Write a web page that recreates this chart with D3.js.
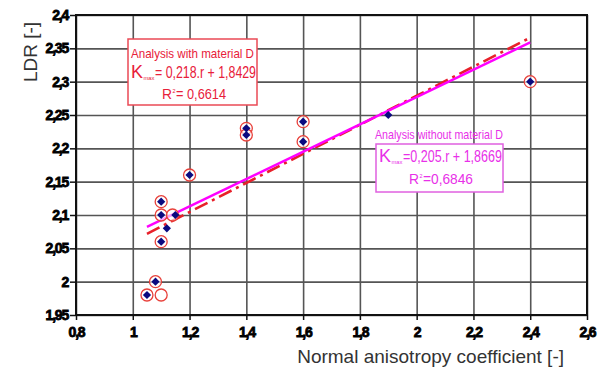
<!DOCTYPE html>
<html>
<head>
<meta charset="utf-8">
<script src="https://cdn.jsdelivr.net/npm/d3@7"></script>
<style>
  body { margin: 0; background: #fff; }
  svg { display: block; }
  .narrow text { font-family: "Liberation Sans Narrow", "Arial Narrow", "Liberation Sans", sans-serif; }
</style>
</head>
<body>
<div id="chart"></div>
<script>
// LDR vs normal anisotropy coefficient

const xTicks = [0.8, 1, 1.2, 1.4, 1.6, 1.8, 2, 2.2, 2.4, 2.6];
const yTicks = [1.95, 2, 2.05, 2.1, 2.15, 2.2, 2.25, 2.3, 2.35, 2.4];

// analysis without material D (blue diamonds)
const withoutX = [1.05, 1.08, 1.1, 1.1, 1.1, 1.12, 1.15, 1.2, 1.4, 1.4, 1.6, 1.6, 1.9, 2.4];
const withoutY = [1.98, 2.0, 2.06, 2.10, 2.12, 2.08, 2.10, 2.16, 2.23, 2.22, 2.24, 2.21, 2.25, 2.30];

// analysis with material D (red open circles)
const withX = [1.05, 1.08, 1.1, 1.1, 1.1, 1.1, 1.14, 1.2, 1.4, 1.4, 1.6, 1.6, 2.4];
const withY = [1.98, 2.0, 1.98, 2.06, 2.10, 2.12, 2.10, 2.16, 2.23, 2.22, 2.24, 2.21, 2.30];

// regression fits
const fitRange = [1.05, 2.4];
const fitWith = { slope: 0.218, intercept: 1.8429 };
const fitWithout = { slope: 0.205, intercept: 1.8669 };

const width = 603, height = 367;
const margin = { top: 15, right: 16, bottom: 52, left: 76 };
const w = width - margin.left - margin.right;
const h = height - margin.top - margin.bottom;

const svg = d3.select('#chart').append('svg')
    .attr('width', width)
    .attr('height', height);

const g = svg.append('g')
    .attr('transform', `translate(${margin.left},${margin.top})`);

const x = d3.scaleLinear().domain([0.8, 2.6]).range([0, w]);
const y = d3.scaleLinear().domain([1.95, 2.4]).range([h, 0]);

const fmt = d => String(+d.toFixed(2)).replace('.', ',');

// Grid
g.append('g')
    .call(d3.axisLeft(y).tickValues(yTicks).tickSize(-w).tickFormat(''))
    .call(s => s.select('.domain').remove())
    .selectAll('line')
    .attr('stroke', '#555')
    .attr('stroke-width', 1.6);

g.append('g')
    .attr('transform', `translate(0,${h})`)
    .call(d3.axisBottom(x).tickValues(xTicks).tickSize(-h).tickFormat(''))
    .call(s => s.select('.domain').remove())
    .selectAll('line')
    .attr('stroke', '#555')
    .attr('stroke-width', 1.6);

// Border
g.append('rect')
    .attr('width', w)
    .attr('height', h)
    .attr('fill', 'none')
    .attr('stroke', '#111')
    .attr('stroke-width', 2);

// Axes
function styleTicks(sel) {
    sel.select('.domain').remove();
    sel.selectAll('line').attr('stroke', '#111').attr('stroke-width', 1.5);
    sel.selectAll('text')
        .style('font-family', '"Liberation Sans", Arial, sans-serif')
        .style('font-weight', '700')
        .style('font-size', '14px')
        .style('letter-spacing', '-1.2px')
        .attr('fill', '#000')
        .attr('stroke', '#000')
        .attr('stroke-width', 0.8);
}

g.append('g')
    .call(d3.axisLeft(y).tickValues(yTicks).tickSize(6).tickPadding(2).tickFormat(fmt))
    .call(styleTicks);

g.append('g')
    .attr('transform', `translate(0,${h})`)
    .call(d3.axisBottom(x).tickValues(xTicks).tickSize(5).tickPadding(7).tickFormat(fmt))
    .call(styleTicks);

// Axis titles
svg.append('text')
    .attr('transform', 'rotate(-90)')
    .attr('x', -52)
    .attr('y', 37)
    .attr('text-anchor', 'middle')
    .attr('font-family', 'Liberation Sans, Arial, sans-serif')
    .attr('font-size', '19px')
    .attr('fill', '#333')
    .text('LDR [-]');

svg.append('text')
    .attr('x', 564)
    .attr('y', 363)
    .attr('text-anchor', 'end')
    .attr('font-family', 'Liberation Sans, Arial, sans-serif')
    .attr('font-size', '19px')
    .attr('fill', '#333')
    .text('Normal anisotropy coefficient [-]');

// Fit lines
const fitLine = f => d3.line()
    .x(d => x(d))
    .y(d => y(f.slope * d + f.intercept))(fitRange);

g.append('path')
    .attr('d', fitLine(fitWith))
    .attr('fill', 'none')
    .attr('stroke', '#e8202a')
    .attr('stroke-width', 2.6)
    .attr('stroke-dasharray', '14,5,3,5');

g.append('path')
    .attr('d', fitLine(fitWithout))
    .attr('fill', 'none')
    .attr('stroke', '#ff00ff')
    .attr('stroke-width', 2.4);

// Points
g.selectAll('.pt-with')
    .data(d3.range(withX.length))
    .enter()
    .append('circle')
    .attr('class', 'pt-with')
    .attr('cx', i => x(withX[i]))
    .attr('cy', i => y(withY[i]))
    .attr('r', 6)
    .attr('fill', '#fff')
    .attr('fill-opacity', 0.6)
    .attr('stroke', '#e8403a')
    .attr('stroke-width', 1.3);

g.selectAll('.pt-without')
    .data(d3.range(withoutX.length))
    .enter()
    .append('path')
    .attr('class', 'pt-without')
    .attr('transform', i => `translate(${x(withoutX[i])},${y(withoutY[i])}) rotate(45)`)
    .attr('d', d3.symbol(d3.symbolSquare, 34)())
    .attr('fill', '#0a0a80');

// Annotation boxes
function annotation(gr, color, head, kText, rText, o) {
    const txt = (tx, ty, size, s, len) => {
        const t = gr.append('text')
            .attr('x', tx).attr('y', ty)
            .attr('font-size', size + 'px')
            .attr('fill', color)
            .text(s);
        if (len) t.attr('textLength', len).attr('lengthAdjust', 'spacingAndGlyphs');
        return t;
    };
    gr.append('rect')
        .attr('x', o.x).attr('y', o.y)
        .attr('width', o.w).attr('height', o.h)
        .attr('fill', '#fff')
        .attr('stroke', o.border)
        .attr('stroke-width', 1.5);
    txt(o.headX, o.headY, 13, head, o.headLen);
    // K_max = ...
    const kx = o.x + 3;
    txt(kx, o.kY, 18, 'K', 12);
    txt(kx + 12.5, o.kY + 2, 6, 'max', 11);
    txt(kx + 24, o.kY, 16, kText, o.w - 28);
    // R^2 = ...
    txt(o.rX, o.rY, 15, 'R', 10);
    txt(o.rX + 10.5, o.rY - 6, 6, '2', 3);
    txt(o.rX + 14, o.rY, 15, rText, 50);
}

annotation(svg.append('g').attr('class', 'narrow'), '#e8203a',
    'Analysis with material D', '= 0,218.r + 1,8429', '= 0,6614',
    { x: 128, y: 39, w: 129, h: 66, border: '#ea4a55',
      headX: 131, headY: 58, headLen: 123, kY: 78, rX: 162, rY: 99 });

annotation(svg.append('g').attr('class', 'narrow'), '#e830e8',
    'Analysis without material D', '=0,205.r + 1,8669', '=0,6846',
    { x: 376, y: 144, w: 127, h: 48, border: '#e060e0',
      headX: 375, headY: 139, headLen: 128, kY: 162, rX: 409, rY: 184 });
</script>
</body>
</html>
